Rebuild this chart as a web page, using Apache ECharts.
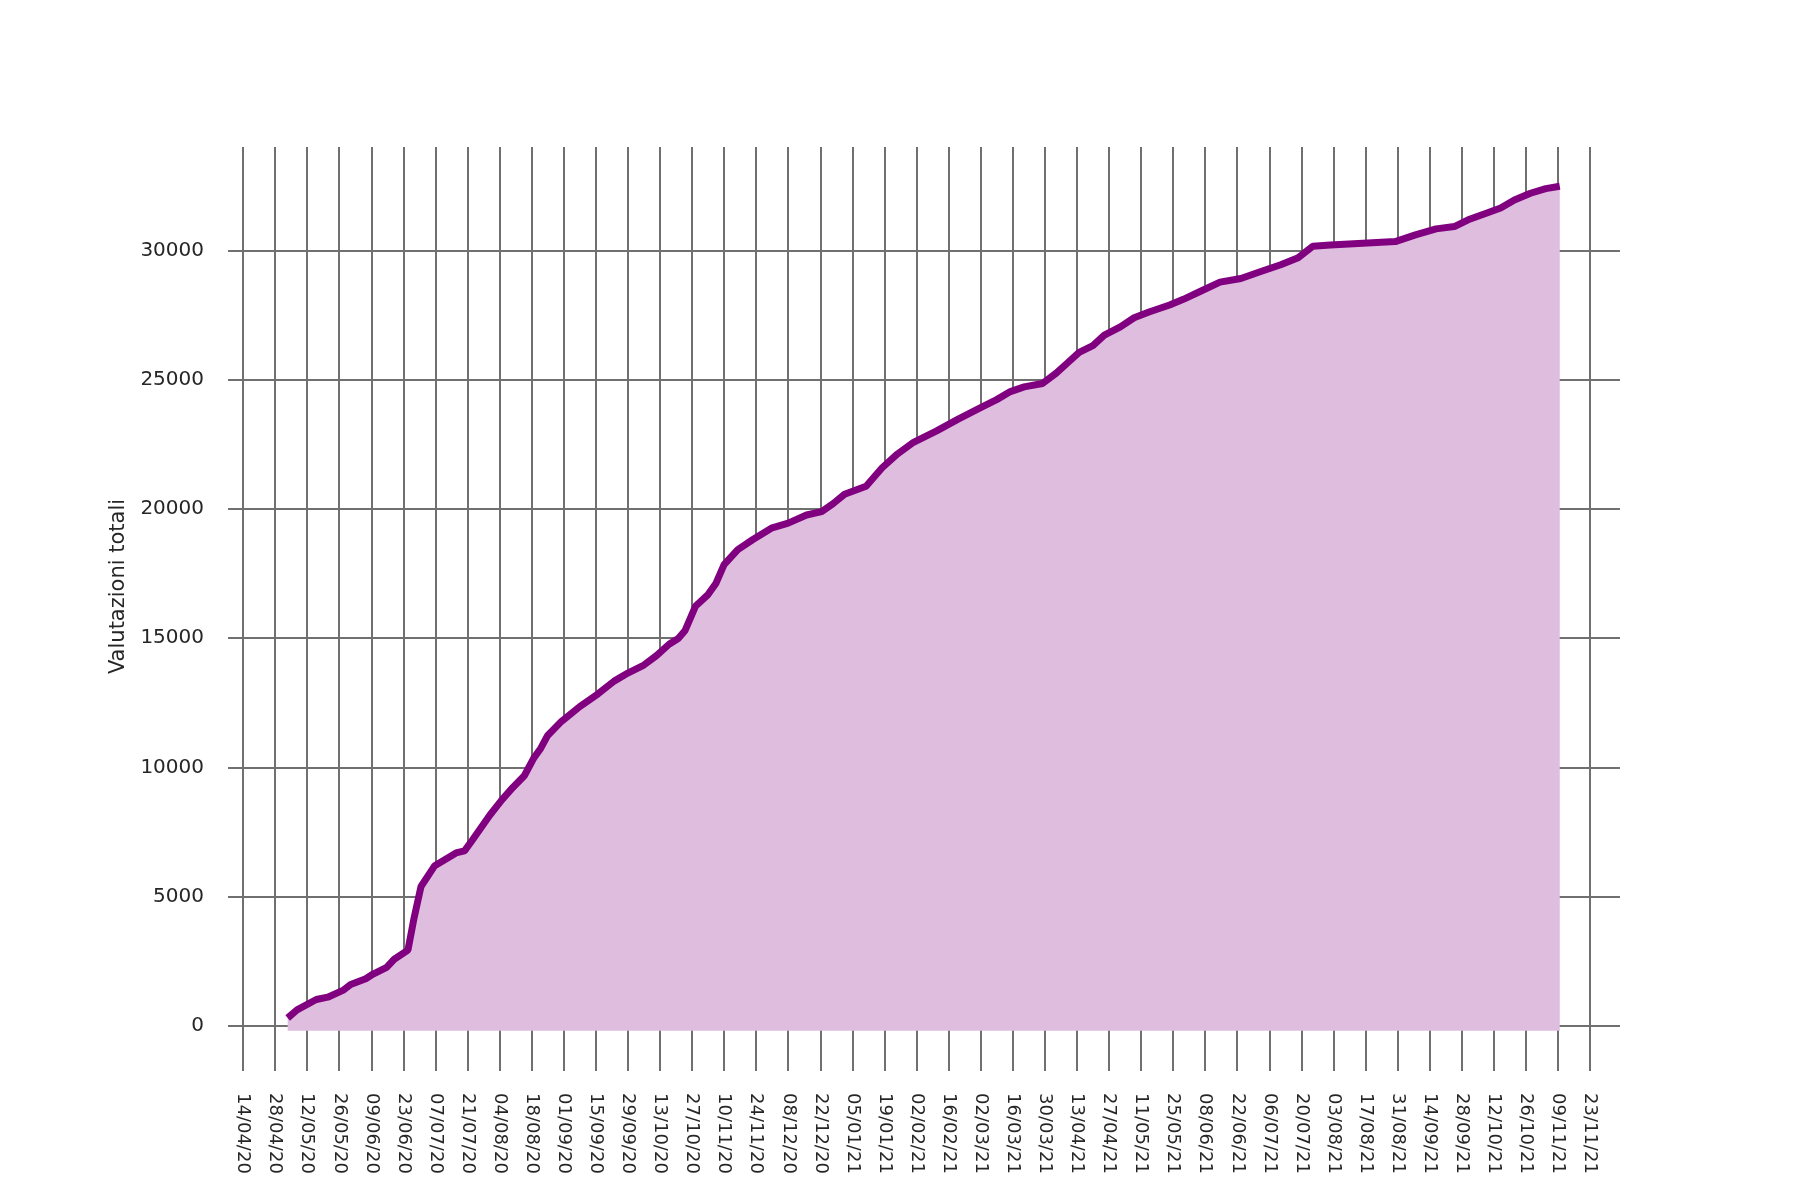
<!DOCTYPE html>
<html>
<head>
<meta charset="utf-8">
<title>Valutazioni totali</title>
<script src="https://cdn.jsdelivr.net/npm/echarts@6/dist/echarts.min.js"></script>
<style>body{margin:0;background:#fff}#main{width:1800px;height:1200px}</style>
</head>
<body>
<div id="main"></div>
<script>
// giorni dal 14/04/2020
var days = [19.5,23.6,32,37,43.6,47,53.6,56.6,62.7,66,72,74.7,77.7,83.7,93,96.7,100,107.8,113,117.8,122.8,126.8,130,133,139,147,155,162,168,175,180.5,186,190,193,197.5,203,206.5,210,216,222.6,231,238,246,252.6,257.6,262.6,272,279,285.7,292.7,302.8,312,322,329,335,341,349,355,360,365,371,376,383,389,395.5,404.5,410.5,418,426.5,435.6,444,453,460.6,467,474.7,503,511.8,520.8,528.8,534.8,541.8,549,555,562,568.7,574.8];
var totals = [490,800,1200,1290,1550,1780,2000,2170,2440,2750,3100,4350,5550,6350,6840,6920,7320,8300,8880,9360,9810,10470,10870,11360,11900,12470,12960,13450,13760,14070,14430,14870,15090,15400,16330,16780,17220,17930,18510,18900,19350,19530,19840,19970,20280,20640,20950,21660,22190,22640,23080,23520,23970,24280,24590,24770,24900,25300,25700,26100,26360,26760,27080,27430,27650,27920,28140,28450,28800,28940,29200,29470,29740,30180,30230,30360,30620,30850,30940,31200,31420,31650,31960,32220,32400,32490];
var startDate = Date.UTC(2020, 3, 14);

function fmtDate(d) {
  var t = new Date(startDate + Math.round(d) * 86400000);
  var p = function (n) { return (n < 10 ? '0' : '') + n; };
  return p(t.getUTCDate()) + '/' + p(t.getUTCMonth() + 1) + '/' + p(t.getUTCFullYear() % 100);
}

var gridColor = '#707070';
var chart = echarts.init(document.getElementById('main'));
chart.setOption({
  animation: false,
  backgroundColor: '#fff',
  grid: [
    {left: 228, right: 180, top: 147, bottom: 174},
    {left: 243, right: 210, top: 147, bottom: 129}
  ],
  xAxis: [
    {gridIndex: 0, type: 'value', show: false, min: 0, max: 1},
    {
      gridIndex: 1, type: 'value', min: 0, max: 588, interval: 14,
      axisLine: {show: false},
      axisTick: {show: false},
      splitLine: {show: true, lineStyle: {color: gridColor, width: 2}},
      axisLabel: {rotate: -90, margin: 22, fontSize: 18, color: '#262626',
        fontFamily: 'DejaVu Sans', formatter: fmtDate}
    }
  ],
  yAxis: [
    {
      gridIndex: 0, type: 'value', min: 0, max: 34000, interval: 5000,
      name: 'Valutazioni totali', nameLocation: 'middle', nameGap: 98,
      nameTextStyle: {fontSize: 21, color: '#262626', fontFamily: 'DejaVu Sans'},
      axisLine: {show: false}, axisTick: {show: false},
      splitLine: {show: true, showMaxLine: false, lineStyle: {color: gridColor, width: 2}},
      axisLabel: {fontSize: 20, color: '#262626', margin: 24, fontFamily: 'DejaVu Sans',
        showMaxLabel: false, formatter: function (v) { return String(v); }}
    },
    {gridIndex: 1, type: 'value', show: false, min: -1550, max: 34000}
  ],
  series: [{
    type: 'line', xAxisIndex: 1, yAxisIndex: 1,
    data: days.map(function (d, i) { return [d, totals[i]]; }),
    showSymbol: false,
    lineStyle: {color: '#800080', width: 7},
    areaStyle: {color: '#dfbddf', opacity: 1, origin: 0}
  }]
});
</script>
</body>
</html>
